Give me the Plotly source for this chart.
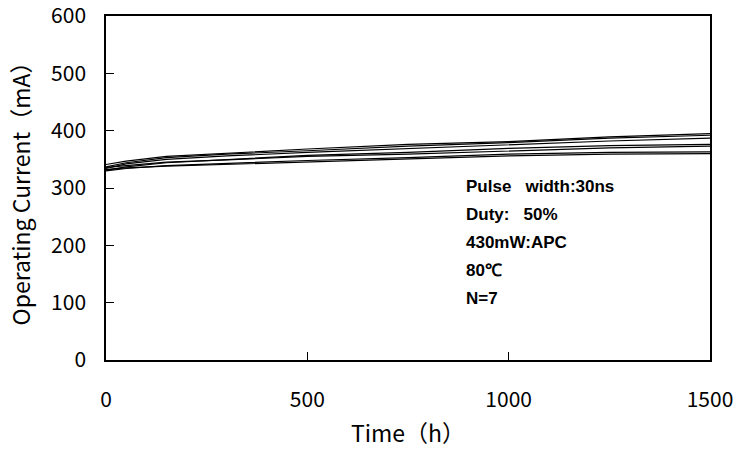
import plotly.graph_objects as go

# Aging test: operating current vs. time for 7 devices
time_h = [0, 50, 150, 300, 500, 750, 1000, 1250, 1500]
dev1 = [341, 347, 355, 361, 368, 376, 381, 389, 395]
dev2 = [337, 344, 353, 359, 365, 373, 379, 387, 392]
dev3 = [334, 342, 350, 356, 362, 369, 376, 382, 387]
dev4 = [331, 337, 344, 350, 357, 362, 369, 374, 376]
dev5 = [336, 339, 345, 349, 355, 359, 365, 370, 373]
dev6 = [330, 334, 339, 343, 348, 353, 359, 362, 363]
dev7 = [332, 335, 338, 341, 346, 351, 356, 359, 360]
devices = [dev1, dev2, dev3, dev4, dev5, dev6, dev7]

x_ticks = [0, 500, 1000, 1500]
y_ticks = [0, 100, 200, 300, 400, 500, 600]

conditions = ["Pulse   width:30ns", "Duty:   50%", "430mW:APC", "80℃", "N=7"]
cond_y = [303, 254, 205, 156, 107]

fig = go.Figure()
for d in devices:
    fig.add_trace(go.Scatter(x=time_h, y=d, mode="lines",
                             line=dict(color="black", width=1.2),
                             showlegend=False, hoverinfo="skip"))

for txt, yv in zip(conditions, cond_y):
    fig.add_annotation(x=889, y=yv, text=f"<b>{txt}</b>", showarrow=False,
                       xanchor="left", yanchor="middle",
                       font=dict(family="Liberation Sans, Arial", size=17, color="black"))

tick_font = dict(family="Noto Sans CJK JP, Liberation Sans", size=21, color="black")
title_font = dict(family="Noto Sans CJK JP, Liberation Sans", size=23, color="black")

fig.update_layout(
    width=741, height=452,
    margin=dict(l=106, r=31, t=16, b=92, autoexpand=False),
    plot_bgcolor="white", paper_bgcolor="white",
    xaxis=dict(range=[0, 1500], tickvals=x_ticks, ticks="inside", ticklen=8,
               tickcolor="black", showline=True, linecolor="black", linewidth=1.5,
               mirror=True, showgrid=False, zeroline=False, automargin=False,
               tickfont=tick_font, ticklabelstandoff=20, ticklabeloverflow="allow",
               title=dict(text="Time（h）", font=title_font, standoff=14)),
    yaxis=dict(range=[0, 600], tickvals=y_ticks, ticks="inside", ticklen=8,
               tickcolor="black", showline=True, linecolor="black", linewidth=1.5,
               mirror=True, showgrid=False, zeroline=False, automargin=False,
               tickfont=tick_font, ticklabelstandoff=14, ticklabeloverflow="allow",
               title=dict(text="Operating Current（mA）", font=title_font, standoff=14)),
)

fig.write_html("out.html")
